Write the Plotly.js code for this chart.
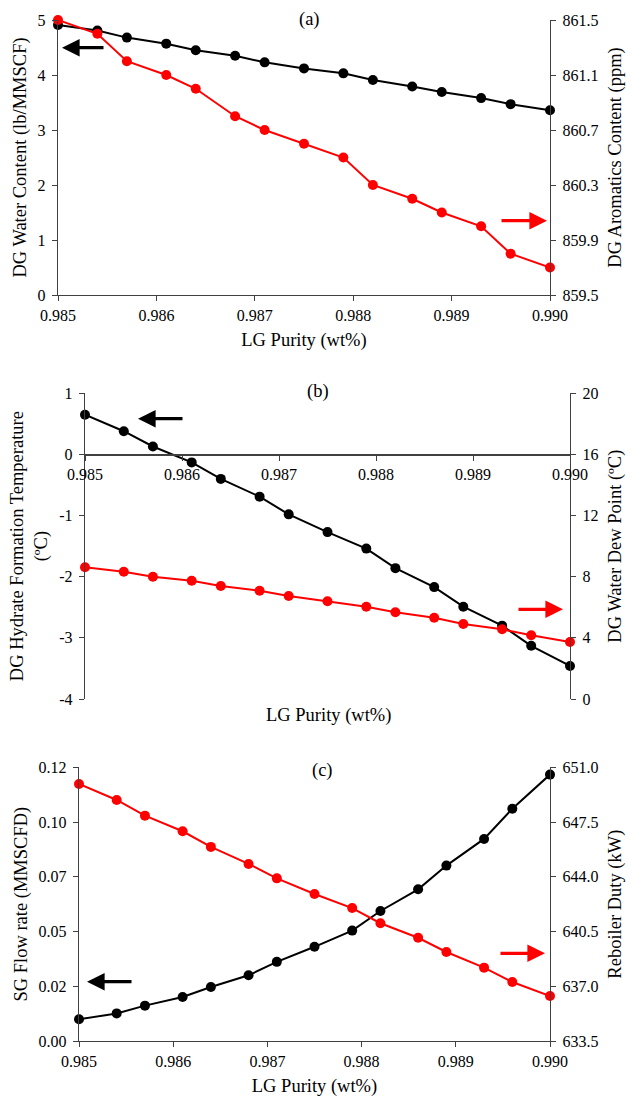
<!DOCTYPE html>
<html><head><meta charset="utf-8">
<script src="https://cdn.plot.ly/plotly-3.0.1.min.js"></script>
<style>html,body{margin:0;padding:0;background:#fff;} #chart{width:630px;height:1098px;}</style>
</head><body><div id="chart"></div>
<script>
// ---- data ----
const purity = [0.985, 0.9854, 0.9857, 0.9861, 0.9864, 0.9868, 0.9871, 0.9875, 0.9879, 0.9882, 0.9886, 0.9889, 0.9893, 0.9896, 0.990];
const waterContent = [4.91, 4.81, 4.68, 4.57, 4.45, 4.35, 4.23, 4.12, 4.03, 3.91, 3.79, 3.69, 3.58, 3.47, 3.36];
const aromaticsContent = [861.5, 861.4, 861.2, 861.1, 861.0, 860.8, 860.7, 860.6, 860.5, 860.3, 860.2, 860.1, 860.0, 859.8, 859.7];
const hydrateTemp = [0.65, 0.38, 0.13, -0.13, -0.40, -0.69, -0.98, -1.27, -1.54, -1.86, -2.17, -2.49, -2.80, -3.13, -3.46];
const dewPoint = [8.62, 8.33, 8.00, 7.74, 7.39, 7.08, 6.74, 6.39, 6.04, 5.67, 5.32, 4.91, 4.56, 4.17, 3.73];
const sgFlow = [0.0095, 0.0121, 0.0155, 0.0193, 0.0237, 0.0288, 0.0347, 0.0413, 0.0484, 0.0570, 0.0665, 0.0769, 0.0886, 0.1018, 0.1168];
const reboilerDuty = [649.93, 648.91, 647.91, 646.91, 645.91, 644.82, 643.90, 642.90, 642.00, 641.03, 640.10, 639.19, 638.19, 637.27, 636.38];
const hydrateTickVals = [1, 0, -1, -2, -3, -4];
const hydrateTickText = ['1', '0', '-1', '-2', '-3', '-4'];
const xTitle = 'LG Purity (wt%)';

// ---- layout helpers ----
const W = 630, H = 1098;
const fx = p => p / W;
const fy = p => 1 - p / H;
const FAM = 'Liberation Serif, Times New Roman, serif';
const TICKF = {family: FAM, size: 16, color: '#000'};
const TITLEF = {family: FAM, size: 18.5, color: '#000'};
const AX = '#404040';

function xax(dom, anchor, title, extra) {
  return Object.assign({
    domain: dom, anchor: anchor, range: [0.985, 0.990], dtick: 0.001, tick0: 0.985,
    tickformat: '.3f', showline: true, linecolor: AX, linewidth: 1.3,
    ticks: 'outside', ticklen: 5, tickcolor: AX, showgrid: false, zeroline: false,
    tickfont: TICKF, title: title ? {text: title, font: TITLEF, standoff: 10} : undefined
  }, extra || {});
}
function yax(dom, anchor, side, range, title, extra) {
  const o = {
    domain: dom, anchor: anchor, side: side, range: range,
    showline: true, linecolor: AX, linewidth: 1.3, ticks: 'outside', ticklen: 5, tickcolor: AX,
    showgrid: false, zeroline: false, tickfont: TICKF, ticklabelstandoff: 3,
    title: {text: title, font: TITLEF, standoff: side === 'right' ? 10 : 6}
  };
  return Object.assign(o, extra || {});
}

const domA = {x: [fx(58), fx(550)], y: [fy(295), fy(20)]};
const domB = {x: [fx(85), fx(570)], y: [fy(699), fy(393.3)]};
const domC = {x: [fx(79), fx(550)], y: [fy(1041), fy(767.3)]};
const rangeB = [-4, 1];
const posB = domB.y[0] + (0 - rangeB[0]) / (rangeB[1] - rangeB[0]) * (domB.y[1] - domB.y[0]);

function series(y, xa, ya, color) {
  return {x: purity, y: y, xaxis: xa, yaxis: ya, type: 'scatter', mode: 'lines+markers',
    line: {color: color, width: 2}, marker: {color: color, size: 10}, showlegend: false, cliponaxis: false};
}

const data = [
  series(waterContent, 'x', 'y', '#000000'),
  series(aromaticsContent, 'x', 'y2', '#ff0000'),
  series(dewPoint, 'x2', 'y4', '#ff0000'),
  series(hydrateTemp, 'x2', 'y3', '#000000'),
  series(reboilerDuty, 'x3', 'y6', '#ff0000'),
  series(sgFlow, 'x3', 'y5', '#000000')
];

function arrow(headX, headY, tailX, color) {
  return {x: fx(headX), y: fy(headY), xref: 'paper', yref: 'paper', text: '', showarrow: true,
    ax: tailX - headX, ay: 0, arrowcolor: color, arrowwidth: 3.2, arrowhead: 2, arrowsize: 1.1, standoff: 0};
}
function label(t, px, py) {
  return {x: fx(px), y: fy(py), xref: 'paper', yref: 'paper', text: t, showarrow: false, font: TITLEF,
    xanchor: 'center', yanchor: 'middle'};
}

const layout = {
  width: W, height: H, margin: {l: 0, r: 0, t: 0, b: 0},
  paper_bgcolor: '#fff', plot_bgcolor: 'rgba(0,0,0,0)', font: TICKF, showlegend: false,
  xaxis: xax(domA.x, 'y', xTitle),
  yaxis: yax(domA.y, 'x', 'left', [0, 5], 'DG Water Content (lb/MMSCF)', {dtick: 1}),
  yaxis2: yax(domA.y, 'x', 'right', [859.5, 861.5], 'DG Aromatics Content (ppm)', {overlaying: 'y', dtick: 0.4, tick0: 859.5, tickformat: '.1f'}),
  xaxis2: xax(domB.x, 'free', null, {position: posB}),
  yaxis3: yax(domB.y, 'x2', 'left', rangeB, 'DG Hydrate Formation Temperature<br>(ºC)', {tickvals: hydrateTickVals, ticktext: hydrateTickText}),
  yaxis4: yax(domB.y, 'x2', 'right', [0, 20], 'DG Water Dew Point (ºC)', {overlaying: 'y3', dtick: 4}),
  xaxis3: xax(domC.x, 'y5', xTitle),
  yaxis5: yax(domC.y, 'x3', 'left', [0, 0.12], 'SG Flow rate (MMSCFD)', {dtick: 0.024, tickformat: '.2f'}),
  yaxis6: yax(domC.y, 'x3', 'right', [633.5, 651.0], 'Reboiler Duty (kW)', {overlaying: 'y5', dtick: 3.5, tick0: 633.5, tickformat: '.1f'}),
  annotations: [
    label('(a)', 309, 20),
    label('(b)', 318, 391),
    label('(c)', 322, 770),
    label(xTitle, 328, 715),
    arrow(62, 47.7, 105, '#000000'),
    arrow(547, 220.7, 500, '#ff0000'),
    arrow(138, 418.7, 184, '#000000'),
    arrow(563, 609.3, 517, '#ff0000'),
    arrow(87, 981.7, 133, '#000000'),
    arrow(545, 953.3, 499, '#ff0000')
  ]
};

Plotly.newPlot('chart', data, layout, {staticPlot: true, displayModeBar: false});
</script>
</body></html>
